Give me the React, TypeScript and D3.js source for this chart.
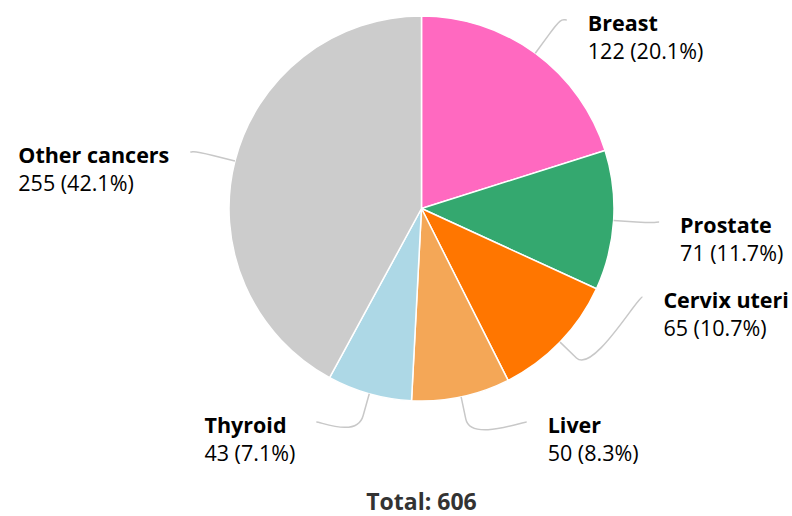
import React, { useEffect, useRef } from "react";
import * as d3 from "d3";

const categories = ["Breast", "Prostate", "Cervix uteri", "Liver", "Thyroid", "Other cancers"];
const cases = [122, 71, 65, 50, 43, 255];
const sliceColors = ["#ff69c0", "#34a86f", "#ff7600", "#f4a757", "#add8e6", "#cccccc"];
// vertical spot of each label's connector end (labels are spread, not on their natural angle)
const labelY = [20, 222, 297, 422, 422, 152];

const W = 792;
const H = 516;
const cx = 421.5;
const cy = 208.5;
const radius = 192.5;
const labelRadius = 238;
const font = "'Open Sans', 'Noto Sans', sans-serif";

function App() {
  const ref = useRef<SVGSVGElement>(null);

  useEffect(() => {
    document.body.style.margin = "0";
    const svg = d3.select(ref.current);
    svg.selectAll("*").remove();

    const total = d3.sum(cases);
    const data = categories.map((c, i) => ({ name: c, value: cases[i], idx: i }));

    const pie = d3.pie<any>().sort(null).value((d) => d.value);
    const arcs = pie(data);
    const arc = d3.arc<any>().innerRadius(0).outerRadius(radius);

    const g = svg.append("g").attr("transform", `translate(${cx},${cy})`);

    g.selectAll("path.slice")
      .data(arcs)
      .join("path")
      .attr("class", "slice")
      .attr("d", arc)
      .attr("fill", (d) => sliceColors[d.data.idx])
      .attr("stroke", "#fff")
      .attr("stroke-width", 1.5)
      .attr("stroke-linejoin", "round");

    arcs.forEach((a) => {
      const i = a.data.idx;
      const mid = (a.startAngle + a.endAngle) / 2;
      const left = mid > Math.PI;
      const sx = Math.sin(mid);
      const sy = -Math.cos(mid);
      // touching point on the slice edge and the break point halfway out
      const tx = radius * sx;
      const ty = radius * sy;
      const br = (radius + labelRadius) / 2;
      const bx = br * sx;
      const by = br * sy;
      const ly = labelY[i] - cy;
      const lx = (left ? -1 : 1) * Math.sqrt(Math.max(0, labelRadius * labelRadius - ly * ly));

      const p = d3.path();
      p.moveTo(lx, ly);
      p.bezierCurveTo(lx + (left ? 5 : -5), ly, 2 * bx - tx, 2 * by - ty, bx, by);
      p.lineTo(tx, ty);
      g.append("path")
        .attr("d", p.toString())
        .attr("fill", "none")
        .attr("stroke", "#c8c8c8")
        .attr("stroke-width", 1.5);

      const lbl = g.append("g").attr("font-family", font).attr("font-size", 21.5);
      const t1 = lbl
        .append("text")
        .attr("y", ly + 11)
        .attr("font-weight", "bold")
        .attr("fill", "#000")
        .text(a.data.name);
      const t2 = lbl
        .append("text")
        .attr("y", ly + 39)
        .attr("fill", "#000")
        .text(`${a.data.value} (${((a.data.value / total) * 100).toFixed(1)}%)`);
      const w = Math.max(
        (t1.node() as SVGTextElement).getComputedTextLength(),
        (t2.node() as SVGTextElement).getComputedTextLength()
      );
      const x0 = left ? lx - 21 - w : lx + 21;
      t1.attr("x", x0);
      t2.attr("x", x0);
    });

    svg
      .append("text")
      .attr("x", cx)
      .attr("y", 510)
      .attr("text-anchor", "middle")
      .attr("font-family", font)
      .attr("font-size", 23)
      .attr("font-weight", "bold")
      .attr("fill", "#333")
      .text(`Total: ${total}`);
  }, []);

  return (
    <div>
      <svg ref={ref} width={W} height={H} style={{ display: "block", background: "#fff" }}></svg>
    </div>
  );
}

export default App;
